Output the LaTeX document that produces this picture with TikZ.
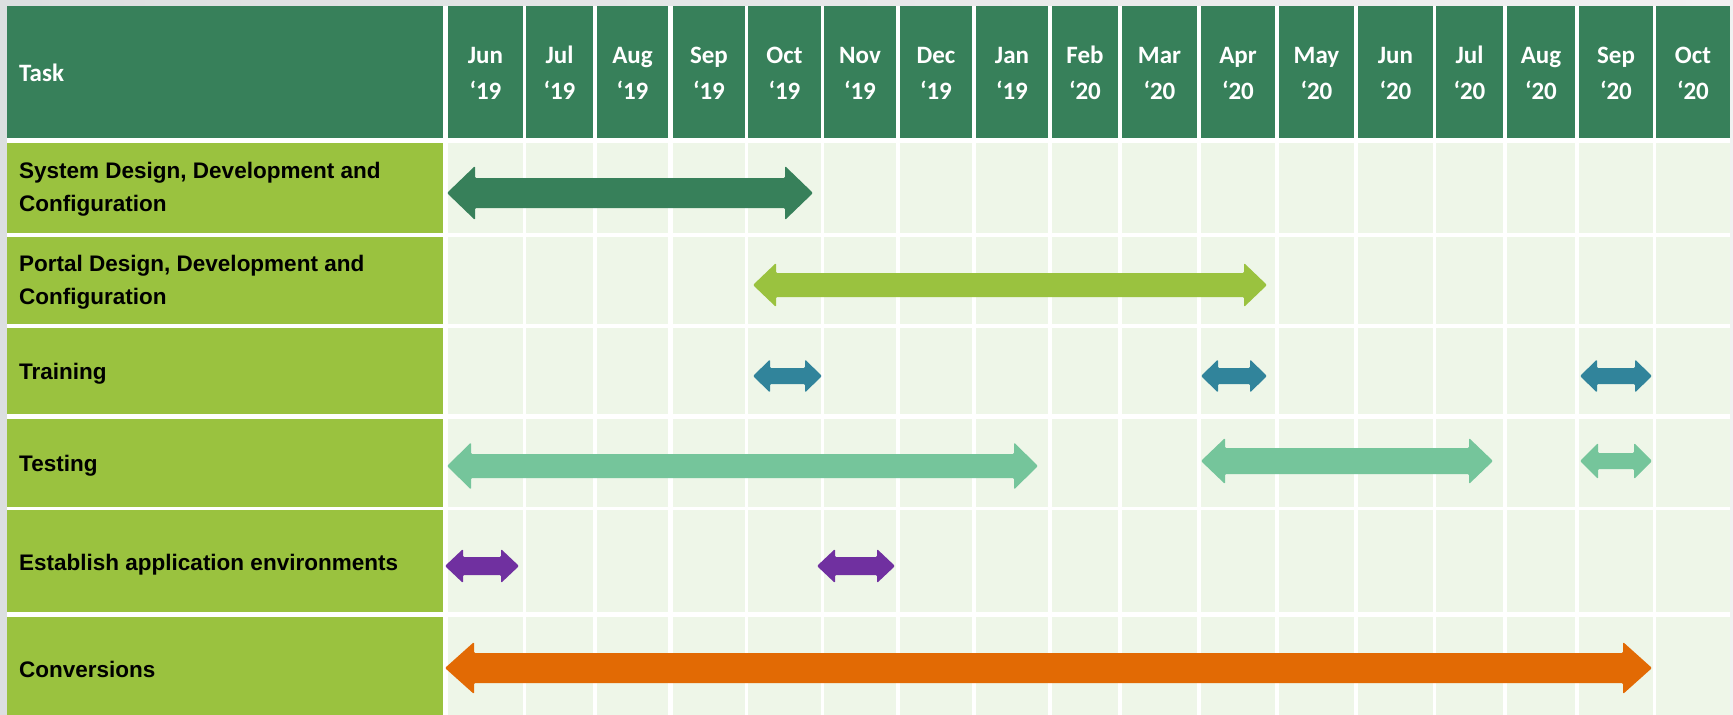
\documentclass[tikz,border=0pt]{standalone}
\usepackage{fontspec}
\setmainfont{Liberation Sans}
\newfontfamily\hdrfont{Carlito}
\definecolor{hdrgreen}{HTML}{37805A}
\definecolor{taskgreen}{HTML}{9AC23F}
\definecolor{cellbg}{HTML}{EEF6E8}
\definecolor{teal}{HTML}{31849B}
\definecolor{mint}{HTML}{75C59B}
\definecolor{purp}{HTML}{7030A0}
\definecolor{orng}{HTML}{E26A04}
\definecolor{greyL}{HTML}{DCDFE0}
\definecolor{greyR}{HTML}{F1F1F1}
\newcommand{\ganttarrow}[7]{% x1, x2, y, t, h, a, color
  \fill[#7, rounded corners=1.2pt] (#1,#3) -- ({#1+#6},{#3-#5}) -- ({#1+#6},{#3-#4}) -- ({#2-#6},{#3-#4}) -- ({#2-#6},{#3-#5}) -- (#2,#3) -- ({#2-#6},{#3+#5}) -- ({#2-#6},{#3+#4}) -- ({#1+#6},{#3+#4}) -- ({#1+#6},{#3+#5}) -- cycle;}
\begin{document}
\begin{tikzpicture}[x=1pt,y=-1pt,
  hdrtxt/.style={anchor=base, text=white, inner sep=0pt, font=\hdrfont\bfseries\fontsize{25}{30}\selectfont},
  tasktxt/.style={anchor=base west, text=black, inner sep=0pt, font=\bfseries\fontsize{22.5}{27}\selectfont}]
\useasboundingbox (0,0) rectangle (1733,715);
\shade[left color=greyL, right color=greyR] (0,0) rectangle (1733,715);
\fill[white] (7,6) rectangle (1730,715);
\def\cols{448/523,526/593,597/668,673/745,748/821,824/896,900/972,976/1048,1052/1118,1122/1197,1201/1275,1279/1354,1358/1433,1436/1503,1507/1575,1579/1653,1656/1730}
\def\rows{143/233,237/324,328/414,419/507,510/612,617/715}
% header
\fill[hdrgreen] (7,6) rectangle (443,138);
\foreach \l/\r in \cols {\fill[hdrgreen] (\l,6) rectangle (\r,138);}
% body
\foreach \t/\b in \rows {
  \fill[taskgreen] (7,\t) rectangle (443,\b);
  \foreach \l/\r in \cols {\fill[cellbg] (\l,\t) rectangle (\r,\b);}
}
% header text
\node[hdrtxt, anchor=base west] (task) at (19,81) {Task};
\foreach \l/\r/\m/\yy [count=\i] in {448/523/Jun/19,526/593/Jul/19,597/668/Aug/19,673/745/Sep/19,748/821/Oct/19,824/896/Nov/19,900/972/Dec/19,976/1048/Jan/19,1052/1118/Feb/20,1122/1197/Mar/20,1201/1275/Apr/20,1279/1354/May/20,1358/1433/Jun/20,1436/1503/Jul/20,1507/1575/Aug/20,1579/1653/Sep/20,1656/1730/Oct/20} {
  \node[hdrtxt] (m\i) at ({(\l+\r)/2},63) {\m};
  \node[hdrtxt] (y\i) at ({(\l+\r)/2},99) {‘\yy};
}
% task labels
\node[tasktxt] (t1a) at (19,178) {System Design, Development and};
\node[tasktxt] (t1b) at (19,211) {Configuration};
\node[tasktxt] (t2a) at (19,271) {Portal Design, Development and};
\node[tasktxt] (t2b) at (19,304) {Configuration};
\node[tasktxt] (t3) at (19,379) {Training};
\node[tasktxt] (t4) at (19,471) {Testing};
\node[tasktxt] (t5) at (19,570) {Establish application environments};
\node[tasktxt] (t6) at (19,677) {Conversions};
% arrows
\ganttarrow{447}{813}{193}{15}{27}{28}{hdrgreen}
\ganttarrow{753}{1267}{285}{12}{22}{23}{taskgreen}
\ganttarrow{753}{822}{376}{8}{16.5}{17}{teal}
\ganttarrow{1201}{1267}{376}{8}{16.5}{17}{teal}
\ganttarrow{1580}{1652}{376}{8}{16.5}{17}{teal}
\ganttarrow{447}{1038}{466}{12}{23.5}{24}{mint}
\ganttarrow{1201}{1493}{461}{13}{23}{24}{mint}
\ganttarrow{1580}{1652}{461}{8}{18}{18}{mint}
\ganttarrow{445}{519}{566}{9}{17}{18}{purp}
\ganttarrow{817}{895}{566}{9}{17}{18}{purp}
\ganttarrow{445}{1652}{668}{15}{26}{29}{orng}
\end{tikzpicture}
\end{document}
